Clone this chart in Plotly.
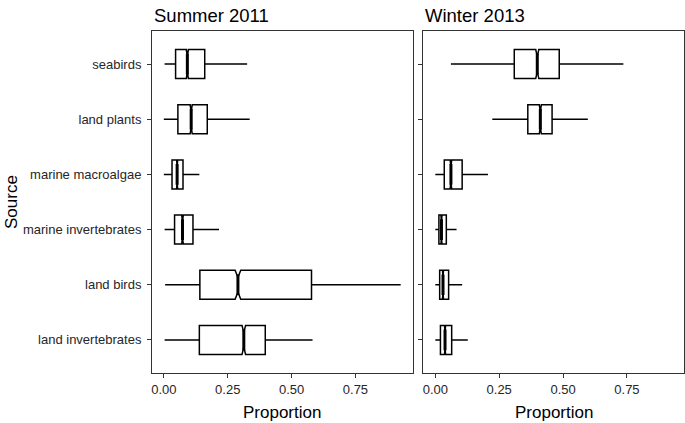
import plotly.graph_objects as go

# Categories (bottom to top)
categories = ["land invertebrates", "land birds", "marine invertebrates",
              "marine macroalgae", "land plants", "seabirds"]
panels = ["Summer 2011", "Winter 2013"]

# Summer 2011 box statistics (order follows categories)
s_low = [0.003, 0.005, 0.003, 0.000, 0.000, 0.003]
s_q1 = [0.139, 0.141, 0.042, 0.032, 0.055, 0.046]
s_med = [0.313, 0.290, 0.073, 0.052, 0.107, 0.092]
s_q3 = [0.397, 0.578, 0.114, 0.075, 0.170, 0.160]
s_high = [0.582, 0.927, 0.216, 0.139, 0.336, 0.326]
s_notch = [0.007, 0.011, 0.003, 0.002, 0.004, 0.004]

# Winter 2013 box statistics
w_low = [0.000, 0.000, 0.000, 0.000, 0.223, 0.061]
w_q1 = [0.020, 0.017, 0.014, 0.035, 0.362, 0.309]
w_med = [0.038, 0.030, 0.024, 0.061, 0.411, 0.399]
w_q3 = [0.064, 0.052, 0.043, 0.105, 0.457, 0.485]
w_high = [0.127, 0.105, 0.083, 0.206, 0.597, 0.736]
w_notch = [0.002, 0.002, 0.002, 0.003, 0.004, 0.006]

x_ticks = [0.0, 0.25, 0.5, 0.75]

FONT = "Liberation Sans, Arial, sans-serif"
pos = list(range(len(categories)))

fig = go.Figure()

stats = [
    (s_low, s_q1, s_med, s_q3, s_high, s_notch, "x", "y"),
    (w_low, w_q1, w_med, w_q3, w_high, w_notch, "x2", "y2"),
]
half = 0.75 / 2 * 0.5  # half length of thick median segment (notch width)
for low, q1, med, q3, high, notch, xa, ya in stats:
    fig.add_trace(go.Box(
        orientation="h", y=pos, q1=q1, median=med, q3=q3,
        lowerfence=low, upperfence=high, notchspan=notch, notched=True,
        notchwidth=0.25, whiskerwidth=0, boxpoints=False,
        fillcolor="white", line=dict(color="black", width=1.5),
        xaxis=xa, yaxis=ya, showlegend=False, hoverinfo="skip",
    ))
    mx, my = [], []
    for p, m in zip(pos, med):
        mx += [m, m, None]
        my += [p - half, p + half, None]
    fig.add_trace(go.Scatter(
        x=mx, y=my, mode="lines", line=dict(color="black", width=3),
        xaxis=xa, yaxis=ya, showlegend=False, hoverinfo="skip",
    ))

all_vals = s_low + s_high + w_low + w_high
dmin, dmax = min(all_vals), max(all_vals)
pad = 0.05 * (dmax - dmin)
xrange = [dmin - pad, dmax + pad]

axis_common = dict(
    showgrid=False, zeroline=False, showline=True, mirror=True,
    linecolor="#333333", linewidth=1, ticks="outside", ticklen=4,
    tickcolor="#333333", tickwidth=1,
    tickfont=dict(family=FONT, size=13, color="#262626"),
)

fig.update_layout(
    width=685, height=423,
    margin=dict(l=151.7, r=0.7, t=30.7, b=49.7),
    paper_bgcolor="white", plot_bgcolor="white",
    boxgap=0.25,
    xaxis=dict(domain=[0, 261 / 533], range=xrange, tickvals=x_ticks,
               tickformat=".2f", anchor="y", **axis_common),
    xaxis2=dict(domain=[272 / 533, 1], range=xrange, tickvals=x_ticks,
                tickformat=".2f", anchor="y2", **axis_common),
    yaxis=dict(range=[-0.6, 5.6], tickvals=pos, ticktext=categories,
               anchor="x", ticklabelstandoff=3, **axis_common),
    yaxis2=dict(range=[-0.6, 5.6], tickvals=pos, ticktext=categories,
                showticklabels=False, anchor="x2", **axis_common),
)

annots = [
    dict(text=panels[0], x=0, y=1.0, xref="paper", yref="paper",
         xanchor="left", yanchor="bottom", yshift=3, showarrow=False,
         font=dict(family=FONT, size=18.5, color="black")),
    dict(text=panels[1], x=272 / 533, y=1.0, xref="paper", yref="paper",
         xanchor="left", yanchor="bottom", yshift=3, showarrow=False,
         font=dict(family=FONT, size=18.5, color="black")),
    dict(text="Proportion", x=130.5 / 533, y=0, xref="paper", yref="paper",
         xanchor="center", yanchor="middle", yshift=-39, showarrow=False,
         font=dict(family=FONT, size=17, color="black")),
    dict(text="Proportion", x=(272 + 130.5) / 533, y=0, xref="paper", yref="paper",
         xanchor="center", yanchor="middle", yshift=-39, showarrow=False,
         font=dict(family=FONT, size=17, color="black")),
    dict(text="Source", x=0, y=0.5, xref="paper", yref="paper",
         xanchor="center", yanchor="middle", xshift=-141, textangle=-90,
         showarrow=False, font=dict(family=FONT, size=17, color="black")),
]
fig.update_layout(annotations=annots)

fig.write_html("out.html", config={"displayModeBar": False},
               post_script="document.body.style.margin='0';")
